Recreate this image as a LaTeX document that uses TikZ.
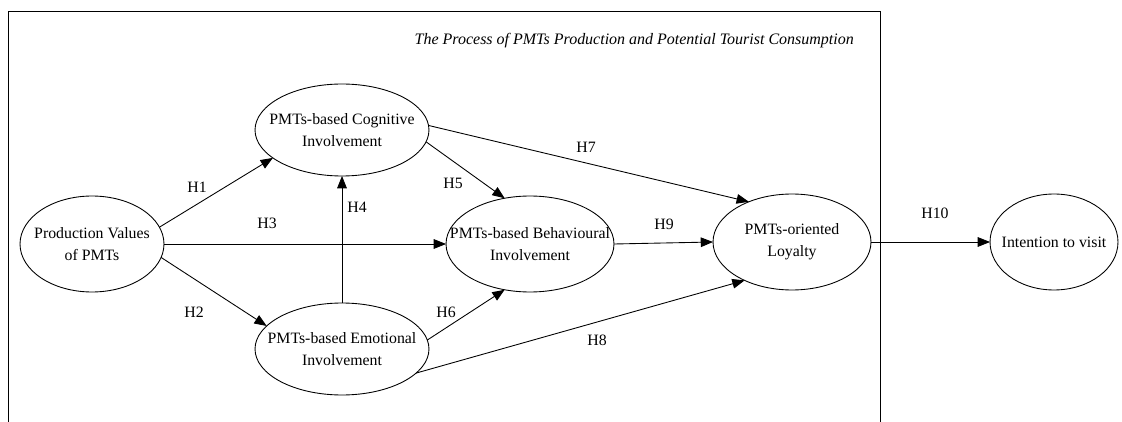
\documentclass[tikz,border=0pt]{standalone}
\usepackage{fontspec}
\setmainfont{Liberation Serif}
\usepackage{tikz}
\usetikzlibrary{arrows.meta, shapes.geometric}

\begin{document}
\begin{tikzpicture}[
    x=0.02cm, y=-0.02cm,
    font=\fontsize{9}{12.3}\selectfont,
    construct/.style={ellipse, draw, line width=0.5pt, inner sep=0pt, outer sep=0pt},
    hyp/.style={-{Triangle[length=7pt, width=5.5pt]}, line width=0.5pt},
    hlabel/.style={inner sep=0pt}
]

\useasboundingbox (0,0) rectangle (1122,422);

% process frame, open at the bottom
\draw[line width=0.5pt] (8,422) -- (8,11) -- (880,11) -- (880,422);
\node[anchor=base east, font=\fontsize{9.1}{12.3}\selectfont\itshape] (title) at (860,45) {The Process of PMTs Production and Potential Tourist Consumption};

\node[construct, minimum width=2.88cm, minimum height=1.92cm, label={[align=center]center:Production Values\\of PMTs}] (prod) at (92,244) {};
\node[construct, minimum width=3.48cm, minimum height=1.84cm, label={[align=center]center:PMTs-based Cognitive\\Involvement}] (cog) at (342,130) {};
\node[construct, minimum width=3.48cm, minimum height=1.84cm, label={[align=center]center:PMTs-based Emotional\\Involvement}] (emo) at (342,349) {};
\node[construct, minimum width=3.36cm, minimum height=1.92cm, label={[align=center]center:PMTs-based Behavioural\\Involvement}] (beh) at (530,244) {};
\node[construct, minimum width=3.16cm, minimum height=1.92cm, label={[align=center]center:PMTs-oriented\\Loyalty}] (loy) at (792,242) {};
\node[construct, minimum width=2.56cm, minimum height=1.92cm, label={center:Intention to visit}] (intent) at (1054,242) {};

\draw[hyp] (prod.14) -- (cog.202);
\draw[hyp] (prod.-11) -- (emo.163);
\draw[hyp] (prod) -- (beh);
\draw[hyp] (emo) -- (cog);
\draw[hyp] (cog.-8) -- (beh.119);
\draw[hyp] (emo.6) -- (beh.241);
\draw[hyp] (cog.3) -- (loy.137);
\draw[hyp] (emo.-18) -- (loy.219);
\draw[hyp] (beh.east) -- (loy.west);
\draw[hyp] (loy) -- (intent);

\node[hlabel] (h1) at (197,187) {H1};
\node[hlabel] (h2) at (194,312) {H2};
\node[hlabel] (h3) at (267,223) {H3};
\node[hlabel] (h4) at (357,207) {H4};
\node[hlabel] (h5) at (453,183) {H5};
\node[hlabel] (h6) at (446,312) {H6};
\node[hlabel] (h7) at (586,147) {H7};
\node[hlabel] (h8) at (597,340) {H8};
\node[hlabel] (h9) at (664,224) {H9};
\node[hlabel] (h10) at (935,213) {H10};

\end{tikzpicture}
\end{document}
